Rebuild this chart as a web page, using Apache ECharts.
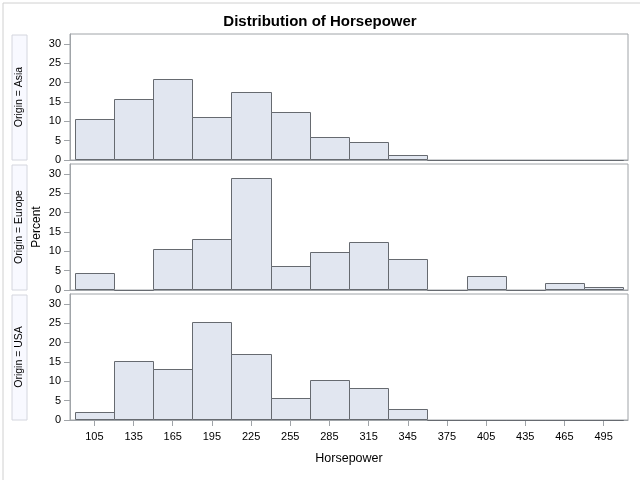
<!DOCTYPE html>
<html>
<head>
<meta charset="utf-8">
<script src="https://cdn.jsdelivr.net/npm/echarts@6/dist/echarts.min.js"></script>
<style>
html,body{margin:0;padding:0;background:#fff;}
#chart{width:640px;height:480px;}
</style>
</head>
<body>
<div id="chart"></div>
<script>
// Bin midpoints (Horsepower), bin width 30
var binMidpoints = [105, 135, 165, 195, 225, 255, 285, 315, 345, 375, 405, 435, 465, 495];
var binWidth = 30;
var origins = ['Asia', 'Europe', 'USA'];
// Percent of cars per bin, per origin
var asiaPct   = [10.5, 15.7, 21.0, 11.1, 17.7, 12.5, 5.9, 4.6, 1.4, 0, 0, 0, 0, 0];
var europePct = [4.4, 0, 10.6, 13.3, 29.1, 6.2, 9.8, 12.4, 8.0, 0, 3.6, 0, 1.8, 0.9];
var usaPct    = [2.1, 15.2, 13.1, 25.4, 17.2, 5.6, 10.4, 8.2, 2.8, 0, 0, 0, 0, 0];
var yTicks = [0, 5, 10, 15, 20, 25, 30];
var xTicks = binMidpoints.slice();

var seriesValues = [asiaPct, europePct, usaPct];

var font = 'Liberation Sans, Arial, Helvetica, sans-serif';
var frameColor = '#a0a4a8';
var barFill = '#e1e6f0';
var barStroke = '#666a70';

var gridTop = [34, 164, 294];
var gridH = 126;
var gridLeft = 70, gridRight = 12;

var grids = [], xAxes = [], yAxes = [], series = [], graphics = [];

for (var i = 0; i < 3; i++) {
  var last = (i === 2);
  grids.push({left: gridLeft, right: gridRight, top: gridTop[i], height: gridH,
    show: true, borderColor: frameColor, borderWidth: 1, backgroundColor: 'transparent'});
  xAxes.push({
    type: 'value', gridIndex: i, min: 86.3, max: 513.7,
    splitLine: {show: false},
    axisLine: {show: true, lineStyle: {color: frameColor}},
    axisTick: {show: last, length: 6, lineStyle: {color: frameColor}, customValues: xTicks},
    axisLabel: {show: last, color: '#000', fontSize: 11, fontFamily: font, margin: 11, customValues: xTicks},
    name: last ? 'Horsepower' : '',
    nameLocation: 'middle', nameGap: 32,
    nameTextStyle: {color: '#000', fontSize: 12.5, fontFamily: font}
  });
  yAxes.push({
    type: 'value', gridIndex: i, min: 0, max: 32.6,
    splitLine: {show: false},
    axisLine: {show: true, lineStyle: {color: frameColor}},
    axisTick: {show: true, length: 6, lineStyle: {color: frameColor}, customValues: yTicks},
    axisLabel: {color: '#000', fontSize: 11, fontFamily: font, margin: 9, customValues: yTicks}
  });
  var data = binMidpoints.map(function (m, k) {
    return [m - binWidth / 2, m + binWidth / 2, seriesValues[i][k]];
  });
  series.push({
    type: 'custom', xAxisIndex: i, yAxisIndex: i,
    encode: {x: [0, 1], y: 2},
    data: data,
    renderItem: function (params, api) {
      var p0 = api.coord([api.value(0), 0]);
      var p1 = api.coord([api.value(1), api.value(2)]);
      var x0 = Math.round(p0[0]) + 0.5, x1 = Math.round(p1[0]) + 0.5;
      var yb = Math.round(p0[1]) - 0.5, yt = Math.round(p1[1]) + 0.5;
      return {
        type: 'rect',
        shape: {x: x0, y: yt, width: x1 - x0, height: Math.max(0, yb - yt)},
        style: {fill: barFill, stroke: barStroke, lineWidth: 1}
      };
    }
  });
  // strip label box
  graphics.push({
    type: 'rect', left: 11.5, top: gridTop[i] + 0.5,
    shape: {width: 15, height: gridH - 1},
    style: {fill: '#f8f9ff', stroke: '#d4d6de', lineWidth: 1}
  });
  graphics.push({
    type: 'text', x: 19, y: gridTop[i] + gridH / 2, rotation: Math.PI / 2,
    style: {text: 'Origin = ' + origins[i], fill: '#000', fontSize: 10.5, fontFamily: font,
      align: 'center', verticalAlign: 'middle'}
  });
}

graphics.push({
  type: 'text', x: 37, y: gridTop[1] + gridH / 2, rotation: Math.PI / 2,
  style: {text: 'Percent', fill: '#000', fontSize: 12, fontFamily: font,
    align: 'center', verticalAlign: 'middle'}
});
graphics.push({
  type: 'rect', left: 0.5, top: 0.5, z: -1,
  shape: {width: 638, height: 478},
  style: {fill: 'none', stroke: '#d0d0d0', lineWidth: 1}
});

var chart = echarts.init(document.getElementById('chart'), null, {renderer: 'canvas'});
chart.setOption({
  animation: false,
  backgroundColor: '#fff',
  title: {text: 'Distribution of Horsepower', left: 'center', top: 9,
    textStyle: {fontSize: 15, fontWeight: 'bold', color: '#000', fontFamily: font}},
  grid: grids, xAxis: xAxes, yAxis: yAxes, series: series, graphic: graphics
});
</script>
</body>
</html>
